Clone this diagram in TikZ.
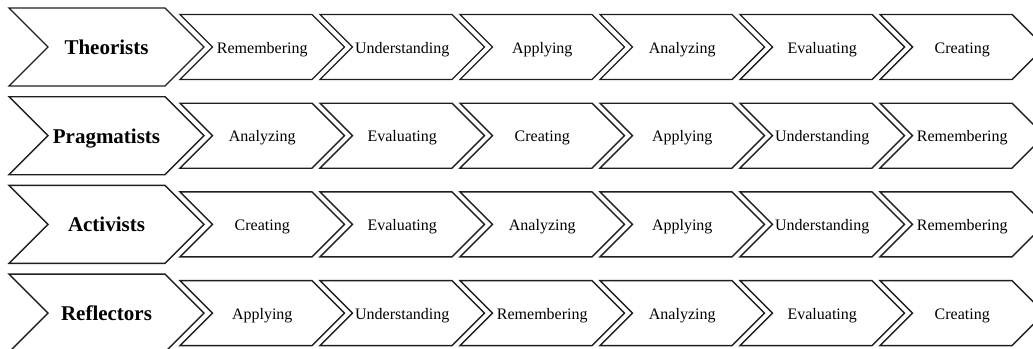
\documentclass[tikz,border=0pt]{standalone}
\usepackage{fontspec}
\setmainfont{Liberation Serif}

% chevron outline: left x, middle y, top-edge length, half height
\newcommand\chevronpath[4]{%
  (#1,#2-#4) -- (#1+#3,#2-#4) -- (#1+#3+#4,#2) -- (#1+#3,#2+#4)
  -- (#1,#2+#4) -- (#1+#4,#2) -- cycle}

\tikzset{
  chev/.style={draw=black!88, line width=1.4pt, line join=miter, fill=white},
  headlabel/.style={font=\fontsize{21}{23}\selectfont\bfseries, inner sep=0pt, anchor=base},
  steplabel/.style={font=\fontsize{16}{18}\selectfont, inner sep=0pt, anchor=base},
}

\begin{document}
\begin{tikzpicture}[x=1pt, y=-1pt]
\useasboundingbox (0,0) rectangle (1033,348);

\foreach \r/\head/\steps in {
  1/Theorists/{Remembering,Understanding,Applying,Analyzing,Evaluating,Creating},
  2/Pragmatists/{Analyzing,Evaluating,Creating,Applying,Understanding,Remembering},
  3/Activists/{Creating,Evaluating,Analyzing,Applying,Understanding,Remembering},
  4/Reflectors/{Applying,Understanding,Remembering,Analyzing,Evaluating,Creating}}{
  \pgfmathsetmacro\ym{47+88.7*(\r-1)}
  % leading chevron with the learner type
  \draw[chev] \chevronpath{9}{\ym}{156}{39};
  \node[headlabel] (h\r) at ({9+(156+39)/2},\ym+7.5) {\head};
  % sequence of stages
  \foreach \s [count=\i from 0] in \steps {
    \pgfmathsetmacro\xl{180+140*\i}
    \draw[chev] \chevronpath{\xl}{\ym}{132}{32.5};
    \node[steplabel] (s\r-\i) at ({\xl+(132+32.5)/2},\ym+6) {\s};
  }
}
\end{tikzpicture}
\end{document}
